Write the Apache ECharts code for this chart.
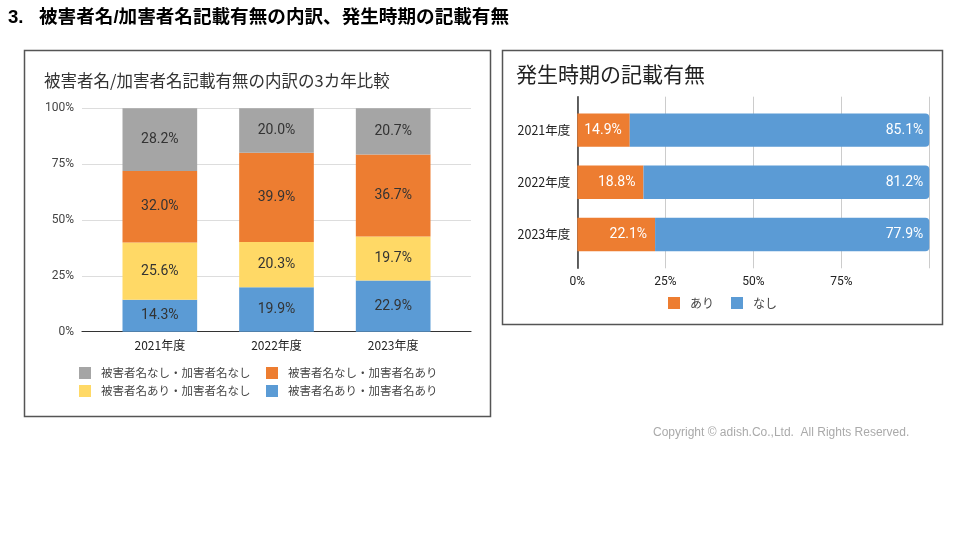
<!DOCTYPE html>
<html>
<head>
<meta charset="utf-8">
<script src="https://cdn.jsdelivr.net/npm/echarts@6/dist/echarts.min.js"></script>
<style>
  html, body { margin: 0; padding: 0; background: #fff; }
  #main { width: 960px; height: 540px; }
</style>
</head>
<body>
<div id="main"></div>
<script>
// 左：被害者名/加害者名の内訳
var years = ['2021年度', '2022年度', '2023年度'];
var bothYes = [14.3, 19.9, 22.9];     // 被害者名あり・加害者名あり
var victimOnly = [25.6, 20.3, 19.7];  // 被害者名あり・加害者名なし
var offenderOnly = [32.0, 39.9, 36.7]; // 被害者名なし・加害者名あり
var bothNo = [28.2, 20.0, 20.7];      // 被害者名なし・加害者名なし

// 右：発生時期の記載有無
var dateYes = [14.9, 18.8, 22.1];
var dateNo = [85.1, 81.2, 77.9];

var jp = "'Noto Sans CJK JP', 'Liberation Sans', sans-serif";
var num = "Roboto, 'Noto Sans CJK JP', sans-serif";

var chart = echarts.init(document.getElementById('main'));

function pct(p) {
    return p.value.toFixed(1) + '%';
}

function oneLegend(name, left, top, size) {
    return {
        data: [name],
        left: left,
        top: top,
        padding: 0,
        itemWidth: 12,
        itemHeight: 12,
        icon: 'rect',
        textStyle: {color: '#444', fontSize: size, fontFamily: jp, padding: [0, 0, 0, 5]}
    };
}

var option = {
    backgroundColor: '#fff',
    animation: false,
    title: [
        {
            text: '3.   被害者名/加害者名記載有無の内訳、発生時期の記載有無',
            left: 8, top: 9, padding: 0,
            textStyle: {color: '#000', fontSize: 18.6, fontWeight: 'bold', fontFamily: "'Liberation Sans', 'Noto Sans CJK JP', sans-serif"}
        },
        {
            text: '被害者名/加害者名記載有無の内訳の3カ年比較',
            left: 44, top: 72, padding: 0,
            textStyle: {color: '#333', fontSize: 16.5, fontWeight: 'normal', fontFamily: jp}
        },
        {
            text: '発生時期の記載有無',
            left: 516, top: 64, padding: 0,
            textStyle: {color: '#222', fontSize: 21, fontWeight: 'normal', fontFamily: jp}
        }
    ],
    legend: [
        oneLegend('被害者名なし・加害者名なし', 79, 367, 11.5),
        oneLegend('被害者名なし・加害者名あり', 266, 367, 11.5),
        oneLegend('被害者名あり・加害者名なし', 79, 385, 11.5),
        oneLegend('被害者名あり・加害者名あり', 266, 385, 11.5),
        oneLegend('あり', 668, 297, 12),
        oneLegend('なし', 731, 297, 12)
    ],
    graphic: [
        {type: 'rect', shape: {x: 24.5, y: 50.5, width: 466, height: 366}, style: {fill: 'none', stroke: '#555', lineWidth: 1.5}},
        {type: 'rect', shape: {x: 502.5, y: 50.5, width: 440, height: 274}, style: {fill: 'none', stroke: '#555', lineWidth: 1.5}},
        {type: 'text', left: 653, top: 427, style: {text: 'Copyright © adish.Co.,Ltd.  All Rights Reserved.', fill: '#aaa', fontSize: 12, fontFamily: "'Liberation Sans', sans-serif"}}
    ],
    grid: [
        // 0: 左の目盛り用（広い）
        {left: 82, top: 108.3, width: 389, height: 223.4},
        // 1: 左の棒用（狭い）
        {left: 101.5, top: 108.3, width: 350, height: 223.4},
        // 2: 右の目盛り用
        {left: 577.3, top: 96.7, width: 352, height: 171.6},
        // 3: 右の棒用
        {left: 577.3, top: 104, width: 352, height: 156.6}
    ],
    xAxis: [
        {
            gridIndex: 0, type: 'value', min: 0, max: 1,
            axisLine: {show: true, lineStyle: {color: '#333', width: 1.2}},
            axisTick: {show: false}, axisLabel: {show: false}, splitLine: {show: false}
        },
        {
            gridIndex: 1, type: 'category', data: years,
            axisLine: {show: false}, axisTick: {show: false},
            axisLabel: {color: '#222', fontSize: 12, margin: 8, fontFamily: jp}
        },
        {
            gridIndex: 2, type: 'value', min: 0, max: 100, interval: 25,
            axisLine: {show: false}, axisTick: {show: false},
            axisLabel: {
                color: '#222', fontSize: 12, margin: 8, fontFamily: num,
                formatter: function (v) { return v === 100 ? '' : v + '%'; }
            },
            splitLine: {lineStyle: {color: '#ccc'}}
        },
        {gridIndex: 3, type: 'value', min: 0, max: 100, show: false}
    ],
    yAxis: [
        {
            gridIndex: 0, type: 'value', min: 0, max: 100, interval: 25,
            axisLine: {show: false}, axisTick: {show: false},
            axisLabel: {color: '#444', fontSize: 12, margin: 8, formatter: '{value}%', fontFamily: num},
            splitLine: {lineStyle: {color: '#ddd'}}
        },
        {gridIndex: 1, type: 'value', min: 0, max: 100, show: false},
        {
            gridIndex: 2, type: 'value', min: 0, max: 1,
            axisLine: {show: true, lineStyle: {color: '#333', width: 1.5}},
            axisTick: {show: false}, axisLabel: {show: false}, splitLine: {show: false}
        },
        {
            gridIndex: 3, type: 'category', data: years, inverse: true,
            axisLine: {show: false}, axisTick: {show: false},
            axisLabel: {color: '#222', fontSize: 12.5, margin: 7, fontFamily: jp}
        }
    ],
    series: [
        // 左の積み上げ（下から）
        {
            name: '被害者名あり・加害者名あり', type: 'bar', stack: 'left',
            xAxisIndex: 1, yAxisIndex: 1, barWidth: '64%',
            itemStyle: {color: '#5b9bd5'}, data: bothYes,
            label: {show: true, formatter: pct, color: '#333', fontSize: 14, fontFamily: num}
        },
        {
            name: '被害者名あり・加害者名なし', type: 'bar', stack: 'left',
            xAxisIndex: 1, yAxisIndex: 1,
            itemStyle: {color: '#ffd966'}, data: victimOnly,
            label: {show: true, formatter: pct, color: '#333', fontSize: 14, fontFamily: num}
        },
        {
            name: '被害者名なし・加害者名あり', type: 'bar', stack: 'left',
            xAxisIndex: 1, yAxisIndex: 1,
            itemStyle: {color: '#ed7d31'}, data: offenderOnly,
            label: {show: true, formatter: pct, color: '#333', fontSize: 14, fontFamily: num}
        },
        {
            name: '被害者名なし・加害者名なし', type: 'bar', stack: 'left',
            xAxisIndex: 1, yAxisIndex: 1,
            itemStyle: {color: '#a5a5a5'}, data: bothNo,
            label: {show: true, formatter: pct, color: '#333', fontSize: 14, fontFamily: num}
        },
        // 右の横棒
        {
            name: 'あり', type: 'bar', stack: 'right',
            xAxisIndex: 3, yAxisIndex: 3, barWidth: '64%',
            itemStyle: {color: '#ed7d31'}, data: dateYes,
            label: {show: true, position: 'insideRight', distance: 8, formatter: pct, color: '#fff', fontSize: 14, fontFamily: num}
        },
        {
            name: 'なし', type: 'bar', stack: 'right',
            xAxisIndex: 3, yAxisIndex: 3,
            itemStyle: {color: '#5b9bd5', borderRadius: [0, 4, 4, 0]}, data: dateNo,
            label: {show: true, position: 'insideRight', distance: 6, formatter: pct, color: '#fff', fontSize: 14, fontFamily: num}
        }
    ]
};

chart.setOption(option);
</script>
</body>
</html>
